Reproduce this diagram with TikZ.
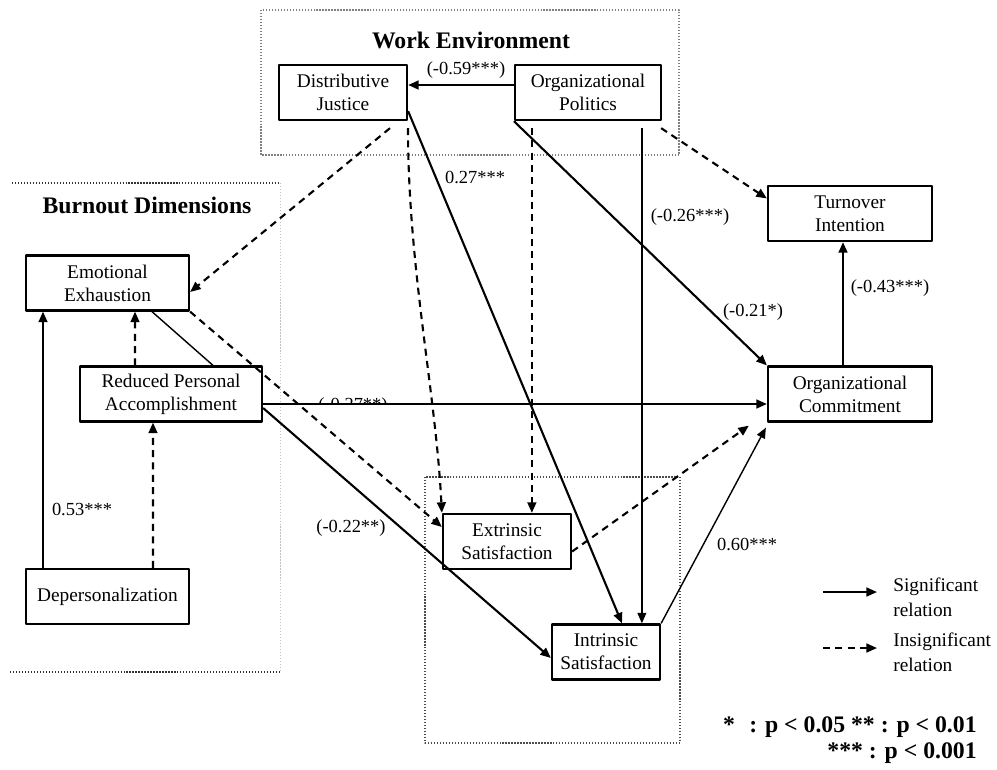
\documentclass[tikz,border=0pt]{standalone}
\usepackage{fontspec}
\setmainfont{Liberation Serif}
\usetikzlibrary{arrows.meta,calc}
\begin{document}
\begin{tikzpicture}[x=0.02cm, y=-0.02cm, line join=round,
  >={Triangle[length=6pt,width=5pt]},
  box/.style={draw, line width=1.3pt, minimum height=1.1cm, align=center, inner sep=1pt, font=\fontsize{11}{13}\selectfont},
  sig/.style={->, line width=1.2pt},
  thinsig/.style={->, line width=0.8pt},
  insig/.style={->, line width=1.2pt, dash pattern=on 4pt off 3pt},
  lbl/.style={font=\fontsize{10.5}{12}\selectfont, inner sep=0pt},
  legend/.style={font=\fontsize{11}{14}\selectfont, align=left, inner sep=0pt},
  note/.style={font=\fontsize{13.5}{14.5}\selectfont\bfseries, align=right, inner sep=0pt},
  group/.style={gray, line width=0.7pt, densely dotted},
  title/.style={font=\fontsize{13.5}{15}\selectfont\bfseries}]
  \useasboundingbox (0,0) rectangle (997,769);
  % groups
  \draw[group] (261,10) rectangle (679,155);
  \draw[group, black!80, line width=0.9pt] (12,183) -- (280,183);
  \draw[group, gray!50, line width=0.5pt] (280,183) -- (280,672);
  \draw[group, black!80, line width=0.9pt] (10,672) -- (280,672);
  \draw[group, black!70] (425,477) rectangle (680,743);
  \node[title] (we) at (471,40) {Work Environment};
  \node[title] (bd) at (147,205) {Burnout Dimensions};
  % constructs
  \node[box, minimum width=2.56cm] (dj) at (343,92.5) {Distributive\\Justice};
  \node[box, minimum width=2.92cm] (op) at (588,92.5) {Organizational\\Politics};
  \node[box, minimum width=3.28cm] (ti) at (850,213.5) {Turnover\\Intention};
  \node[box, minimum width=3.28cm] (oc) at (850,394) {Organizational\\Commitment};
  \node[box, minimum width=3.26cm] (ee) at (107.5,283) {Emotional\\Exhaustion};
  \node[box, minimum width=3.64cm] (rpa) at (171,394) {Reduced Personal\\Accomplishment};
  \node[box, minimum width=3.26cm] (dep) at (107.5,596.5) {Depersonalization};
  \node[box, minimum width=2.56cm] (es) at (507,541.5) {Extrinsic\\Satisfaction};
  \node[box, minimum width=2.16cm] (is) at (606,652) {Intrinsic\\Satisfaction};
  % work environment paths
  \draw[sig] ($(op.west)+(0,-7.5)$) -- ($(dj.east)+(0,-7.5)$);
  \node[lbl] (l59) at (466,70) {(-0.59***)};
  \draw[insig] ($(dj.south)+(47,7)$) -- ($(ee.east)+(0,9)$);
  \draw[insig] ($(dj.south)+(65,7)$) .. controls +(0,140) and +(-6,-120) .. (es.north west);
  \draw[sig] ($(dj.south east)+(0,-10)$) -- ($(is.north)+(16,0)$);
  \node[lbl] (l27) at (475,177) {0.27***};
  \draw[insig] ($(op.south west)+(18,7)$) coordinate (opa) -- (opa |- es.north);
  \draw[thinsig] ($(op.south west)+(128,7)$) coordinate (opb) -- (opb |- is.north);
  \node[lbl] (l26) at (690,217) {(-0.26***)};
  \draw[sig] (op.south west) -- (oc.north west);
  \node[lbl] (l21) at (753,312) {(-0.21*)};
  \draw[insig] ($(op.south east)+(-1,7)$) -- ($(ti.west)+(0,-15)$);
  \draw[sig] ($(oc.north)+(-7,0)$) -- ($(ti.south)+(-7,0)$);
  \node[lbl] (l43) at (890,288) {(-0.43***)};
  % burnout paths
  \begin{scope}
    \clip (300,380) rectangle (410,403);
    \node[lbl, anchor=base] (l27b) at (353,410) {(-0.27**)};
  \end{scope}
  \draw[sig] ($(rpa.east)+(0,10)$) -- ($(oc.west)+(0,10)$);
  \draw[insig] ($(es.east)+(0,10)$) -- ($(oc.south west)+(-18,3)$);
  \draw[thinsig] (is.north east) -- ($(oc.south west)+(-1,5)$);
  \node[lbl] (l60) at (747,544) {0.60***};
  \draw[line width=0.8pt] ($(ee.south)+(44.5,0)$) -- ($(rpa.north)+(42,0)$);
  \draw[insig] (ee.south east) -- ($(es.west)+(0,-14.5)$);
  \draw[insig] ($(rpa.north)+(-36,0)$) -- ($(ee.south)+(27.5,0)$);
  \draw[sig] ($(rpa.east)+(0,14)$) -- ($(is.west)+(0,6)$);
  \node[lbl] (l22) at (351,528) {(-0.22**)};
  \draw[insig] ($(dep.north)+(45.5,0)$) -- ($(rpa.south)+(-18,0)$);
  \draw[sig] ($(dep.north)+(-64.5,0)$) -- ($(ee.south)+(-64.5,0)$);
  \node[lbl] (l53) at (82,509) {0.53***};
  % legend
  \coordinate (s1) at (823,592);
  \coordinate (s2) at (877,592);
  \draw[sig] (s1) -- (s2);
  \node[legend, anchor=west] (sigtxt) at (893,597) {Significant\\relation};
  \coordinate (i1) at (823,648);
  \coordinate (i2) at (877,648);
  \draw[insig] (i1) -- (i2);
  \node[legend, anchor=west] (insigtxt) at (893,652) {Insignificant\\relation};
  \node[note, anchor=east] (notes) at (977,740) {*\hspace{0.6em}: p < 0.05 ** : p < 0.01\\*** : p < 0.001};
\end{tikzpicture}
\end{document}
